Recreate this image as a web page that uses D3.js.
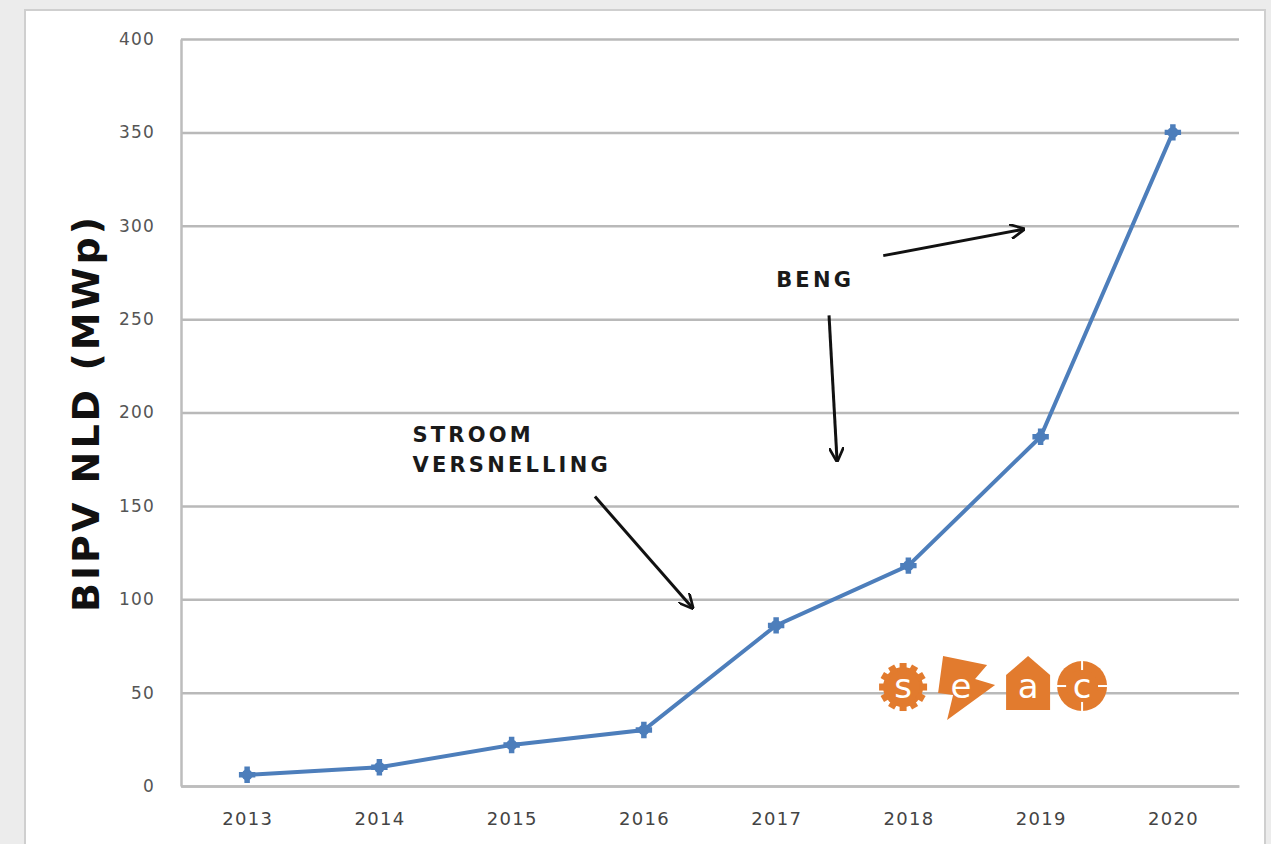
<!DOCTYPE html>
<html>
<head>
<meta charset="utf-8">
<script src="https://cdn.jsdelivr.net/npm/d3@7"></script>
<style>
  body { margin: 0; background: #ececec; }
  svg { display: block; }
</style>
</head>
<body>
<div id="chart"></div>
<script>
var years = [2013, 2014, 2015, 2016, 2017, 2018, 2019, 2020];
var bipvValues = [6, 10, 22, 30, 86, 118, 187, 350];
var yTicks = [0, 50, 100, 150, 200, 250, 300, 350, 400];

// annotations in data units (year, MWp)
var labels = [
    { lines: ["STROOM", "VERSNELLING"], x: 2014.25, y: 184 },
    { lines: ["BENG"], x: 2017.0, y: 267 }
];
var arrows = [
    { from: [2015.63, 155], to: [2016.36, 96] },
    { from: [2017.4, 252], to: [2017.46, 175] },
    { from: [2017.81, 284], to: [2018.86, 298] }
];

function drawChart() {
    const width = 1271;
    const height = 844;
    const left = 181, right = 1239, top = 39, bottom = 786;

    var svg = d3.select("#chart")
        .append("svg")
        .attr("width", width)
        .attr("height", height);

    // white panel
    svg.append("rect")
        .attr("x", 25).attr("y", 10)
        .attr("width", 1240).attr("height", 850)
        .attr("fill", "#ffffff")
        .attr("stroke", "#cfcfcf")
        .attr("stroke-width", 2);

    const xScale = d3.scaleLinear()
        .domain([2012.5, 2020.5])
        .range([left, right]);
    const yScale = d3.scaleLinear()
        .domain([0, 400])
        .range([bottom, top]);

    // gridlines
    svg.append("g")
        .attr("transform", "translate(" + left + ",0)")
        .call(d3.axisLeft(yScale).tickValues(yTicks).tickSize(-(right - left)).tickFormat(""))
        .call(g => g.select(".domain").remove())
        .call(g => g.selectAll("line").attr("stroke", "#b9b9b9").attr("stroke-width", 2.5));

    // y tick labels
    svg.append("g")
        .attr("transform", "translate(" + left + ",0)")
        .call(d3.axisLeft(yScale).tickValues(yTicks).tickSize(0).tickPadding(26))
        .call(g => g.select(".domain").attr("stroke", "#bdbdbd").attr("stroke-width", 2.5))
        .call(g => g.selectAll("text")
            .attr("font-family", "DejaVu Sans, Verdana, sans-serif")
            .attr("font-size", 17)
            .attr("letter-spacing", 1.2)
            .attr("fill", "#555"));

    // x axis
    svg.append("g")
        .attr("transform", "translate(0," + bottom + ")")
        .call(d3.axisBottom(xScale).tickValues(years).tickSize(0).tickPadding(26).tickFormat(d3.format("d")))
        .call(g => g.select(".domain").attr("stroke", "#bdbdbd").attr("stroke-width", 2.5))
        .call(g => g.selectAll("text")
            .attr("font-family", "DejaVu Sans, Verdana, sans-serif")
            .attr("font-size", 18)
            .attr("letter-spacing", 1.3)
            .attr("fill", "#444"));

    // y axis title
    svg.append("text")
        .attr("transform", "translate(99,612) rotate(-90)")
        .attr("text-anchor", "start")
        .attr("font-family", "DejaVu Sans, Verdana, sans-serif")
        .attr("font-weight", "bold")
        .attr("font-size", 38)
        .attr("fill", "#111")
        .attr("letter-spacing", 3)
        .text("BIPV NLD (MWp)");

    var line = d3.line()
        .x((d, i) => xScale(years[i]))
        .y((d) => yScale(d));

    svg.append("path")
        .datum(bipvValues)
        .attr("d", line)
        .attr("fill", "none")
        .attr("stroke", "#4d7ebb")
        .attr("stroke-width", 4);

    svg.selectAll("path.marker")
        .data(bipvValues)
        .enter()
        .append("path")
        .attr("class", "marker")
        .attr("d", d3.symbol().type(d3.symbolCross).size(150))
        .attr("transform", (d, i) => "translate(" + xScale(years[i]) + "," + yScale(d) + ")")
        .attr("fill", "#4d7ebb");
    svg.selectAll("circle.marker")
        .data(bipvValues)
        .enter()
        .append("circle")
        .attr("class", "marker")
        .attr("cx", (d, i) => xScale(years[i]))
        .attr("cy", (d) => yScale(d))
        .attr("r", 5.5)
        .attr("fill", "#4d7ebb");

    // annotations
    svg.append("defs").append("marker")
        .attr("id", "arrowhead")
        .attr("viewBox", "0 0 10 10")
        .attr("refX", 8).attr("refY", 5)
        .attr("markerWidth", 5).attr("markerHeight", 5)
        .attr("orient", "auto")
        .append("path")
        .attr("d", "M0,0 L10,5 L0,10")
        .attr("fill", "none")
        .attr("stroke", "#111")
        .attr("stroke-width", 1.8);

    svg.selectAll("line.arrow")
        .data(arrows)
        .enter()
        .append("line")
        .attr("class", "arrow")
        .attr("x1", (a) => xScale(a.from[0]))
        .attr("y1", (a) => yScale(a.from[1]))
        .attr("x2", (a) => xScale(a.to[0]))
        .attr("y2", (a) => yScale(a.to[1]))
        .attr("stroke", "#111")
        .attr("stroke-width", 3)
        .attr("marker-end", "url(#arrowhead)");

    labels.forEach(function(lab) {
        var t = svg.append("text")
            .attr("font-family", "DejaVu Sans, Verdana, sans-serif")
            .attr("font-weight", "bold")
            .attr("font-size", 21)
            .attr("fill", "#1a1a1a")
            .attr("letter-spacing", 3.2);
        lab.lines.forEach(function(l, i) {
            t.append("tspan")
                .attr("x", xScale(lab.x))
                .attr("y", yScale(lab.y) + i * 30)
                .text(l);
        });
    });

    drawLogo(svg, xScale(2017.96), yScale(53));
}

function drawLogo(svg, cx, cy) {
    var orange = "#e27b2e";
    var g = svg.append("g").attr("transform", "translate(" + cx + "," + cy + ")");

    // s : gear
    var gear = g.append("g");
    gear.append("circle").attr("r", 20).attr("fill", orange);
    d3.range(12).forEach(function(i) {
        gear.append("rect")
            .attr("x", -3.5).attr("y", -24).attr("width", 7).attr("height", 8)
            .attr("fill", orange)
            .attr("transform", "rotate(" + (i * 30) + ")");
    });

    // e : lightning bolt
    g.append("path")
        .attr("d", "M 40,-31 L 84,-22 L 72,-8 L 92,-2 L 44,33 L 50,8 L 35,6 Z")
        .attr("fill", orange);

    // a : house
    g.append("path")
        .attr("d", "M 103,23 L 103,-12 L 125,-31 L 147,-12 L 147,23 Z")
        .attr("fill", orange);

    // c : sun
    var sun = g.append("g").attr("transform", "translate(179,-1)");
    sun.append("circle").attr("r", 25).attr("fill", orange);
    sun.append("rect").attr("x", -28).attr("y", -1).attr("width", 56).attr("height", 2).attr("fill", "#fff");
    sun.append("rect").attr("x", -1).attr("y", -28).attr("width", 2).attr("height", 56).attr("fill", "#fff");
    sun.append("circle").attr("r", 16).attr("fill", orange);

    var letters = [["s", 0], ["e", 58], ["a", 125], ["c", 179]];
    letters.forEach(function(l) {
        g.append("text")
            .attr("x", l[1]).attr("y", 11)
            .attr("text-anchor", "middle")
            .attr("font-family", "DejaVu Sans, Verdana, sans-serif")
            .attr("font-size", 34)
            .attr("fill", "#ffffff")
            .text(l[0]);
    });
}

drawChart();
</script>
</body>
</html>
